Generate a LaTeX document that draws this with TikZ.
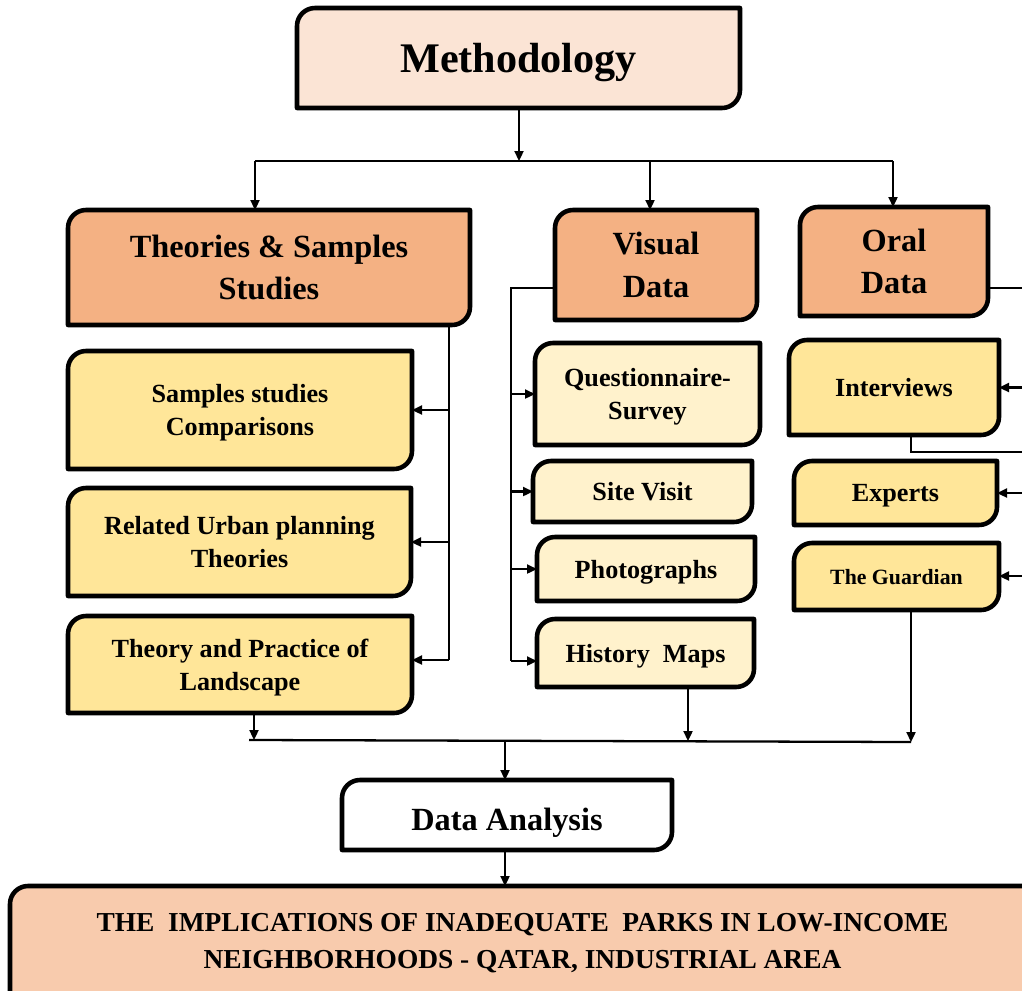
\documentclass[tikz,border=0pt]{standalone}
\usepackage{fontspec}
\setmainfont{Liberation Serif}
\usetikzlibrary{arrows.meta}
\definecolor{cMeth}{HTML}{FBE4D5}
\definecolor{cHead}{HTML}{F4B183}
\definecolor{cYel}{HTML}{FFE699}
\definecolor{cLt}{HTML}{FFF2CC}
\definecolor{cFin}{HTML}{F8CBAD}
\tikzset{
  boxline/.style={line width=2.6pt, line join=round},
  conn/.style={line width=1.3pt},
  arr/.style={conn, -{Triangle[length=0.2cm,width=0.18cm]}},
  fMeth/.style={font=\fontsize{24}{30}\selectfont\bfseries, text depth=0pt},
  fHead/.style={font=\fontsize{18.4}{24}\selectfont\bfseries},
  fDA/.style={font=\fontsize{18.4}{24}\selectfont\bfseries, text height=0.6cm, text depth=0pt},
  fSub/.style={font=\fontsize{14.9}{19}\selectfont\bfseries, text depth=0pt},
  fSmall/.style={font=\fontsize{12.4}{16}\selectfont\bfseries, text depth=0pt},
  fFin/.style={font=\fontsize{15.6}{21}\selectfont\bfseries, text depth=0pt},
}
\newcommand\bx[8]{%
  \draw[boxline,fill=#6] (#2,#5) -- (#2,#3+18) arc[start angle=180,end angle=90,radius=0.36cm]
     -- (#4,#3) -- (#4,#5-18) arc[start angle=0,end angle=-90,radius=0.36cm] -- cycle;
  \node[inner sep=0pt, outer sep=0pt, minimum width={(#4-#2)*0.02cm},
        minimum height={(#5-#3)*0.02cm}, align=center, #7] (#1)
        at ({(#2+#4)/2},{(#3+#5)/2}) {#8};
}
\begin{document}
\begin{tikzpicture}[x=0.02cm,y=-0.02cm]
\useasboundingbox (0,0) rectangle (1022,991);
\clip (0,0) rectangle (1022,991);
\fill[white] (0,0) rectangle (1022,991);
% boxes
\bx{meth}{297}{8}{740}{108}{cMeth}{fMeth}{Methodology}
\bx{theo}{68}{210}{470}{325}{cHead}{fHead}{Theories \& Samples\\Studies}
\bx{vis}{555}{210}{757}{320}{cHead}{fHead}{Visual\\Data}
\bx{oral}{800}{207}{988}{316}{cHead}{fHead}{Oral\\Data}
\bx{ssc}{68}{351}{412}{469}{cYel}{fSub}{Samples studies\\Comparisons}
\bx{rut}{68}{488}{411}{596}{cYel}{fSub}{Related Urban planning\\Theories}
\bx{tpl}{68}{616}{412}{713}{cYel}{fSub}{Theory and Practice of\\Landscape}
\bx{qs}{535}{343}{760}{445}{cLt}{fSub}{Questionnaire-\\Survey}
\bx{sv}{533}{461}{752}{522}{cLt}{fSub}{Site Visit}
\bx{ph}{537}{537}{755}{601}{cLt}{fSub}{Photographs}
\bx{hm}{537}{619}{754}{687}{cLt}{fSub}{History\ \ Maps}
\bx{int}{789}{340}{999}{435}{cYel}{fSub}{Interviews}
\bx{exp}{794}{461}{997}{525}{cYel}{fSub}{Experts}
\bx{gua}{794}{543}{999}{610}{cYel}{fSmall}{The Guardian}
\bx{da}{342}{780}{672}{850}{white}{fDA}{Data Analysis}
\bx{fin}{10}{886}{1035}{995}{cFin}{fFin}{THE\ \ IMPLICATIONS OF INADEQUATE\ \ PARKS IN LOW-INCOME\\NEIGHBORHOODS - QATAR, INDUSTRIAL AREA}
% top distribution
\coordinate (t0) at (519,161);
\coordinate (tL) at (255,161);
\coordinate (tV) at (650,161);
\coordinate (tR) at (893,161);
\draw[arr] (meth.south -| t0) -- (t0);
\draw[conn] (tL) -- (tR);
\draw[arr] (tL) -- (tL |- theo.north);
\draw[arr] (tV) -- (tV |- vis.north);
\draw[arr] (tR) -- (tR |- oral.north);
% left bus
\coordinate (lb) at (449,660);
\draw[conn] (lb |- theo.south) -- (lb);
\draw[arr] (lb |- ssc.east) -- (ssc.east);
\draw[arr] (lb |- rut.east) -- (rut.east);
\draw[arr] (lb) -- (lb -| tpl.east);
% visual bus
\coordinate (vb0) at (511,288);
\coordinate (vb1) at (511,661);
\draw[conn] (vis.west |- vb0) -- (vb0) -- (vb1);
\draw[arr] (vb0 |- qs.west) -- (qs.west);
\draw[arr] (vb0 |- sv.west) -- (sv.west);
\draw[arr] (vb0 |- ph.west) -- (ph.west);
\draw[arr] (vb1) -- (vb1 -| hm.west);
% oral bus (runs off the right edge)
\coordinate (ob0) at (1030,288);
\coordinate (ob1) at (1030,576);
\draw[conn] (oral.east |- ob0) -- (ob0) -- (ob1);
\draw[arr] (ob0 |- int.east) -- (int.east);
\draw[arr] (ob0 |- exp.east) -- (exp.east);
\draw[arr] (ob1) -- (ob1 -| gua.east);
\coordinate (ib) at (911,452);
\draw[conn] (int.south -| ib) -- (ib) -- (ib -| ob0);
% bottom collection
\coordinate (bL) at (254,740);
\coordinate (bM) at (688,741);
\coordinate (bR) at (911,742);
\coordinate (bC) at (505,740);
\draw[arr] (tpl.south -| bL) -- (bL);
\draw[arr] (hm.south -| bM) -- (bM);
\draw[arr] (gua.south -| bR) -- (bR);
\draw[conn] ([xshift=-0.1cm]bL) -- (bR);
\draw[arr] (bC) -- (bC |- da.north);
\draw[arr] (da.south -| bC) -- (bC |- fin.north);
\end{tikzpicture}
\end{document}
